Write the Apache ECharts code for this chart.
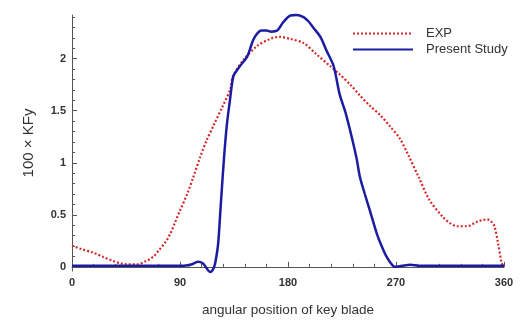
<!DOCTYPE html>
<html>
<head>
<meta charset="utf-8">
<script src="https://cdn.jsdelivr.net/npm/echarts@6/dist/echarts.min.js"></script>
<style>html,body{margin:0;padding:0;background:#fff;}#c{width:520px;height:322px;}</style>
</head>
<body>
<div id="c"></div>
<script>
// ---- data ----
const expAngles = [0, 8, 18, 26, 34, 40, 46, 54, 62, 68, 73, 78, 82, 86, 90, 96, 101, 107, 112, 118, 125, 132, 134, 143, 154, 165, 173, 182, 193, 204, 215, 223, 232, 240, 248, 257, 265, 273, 280, 289, 298, 309, 315, 321, 329, 337, 342, 346, 349, 352, 355, 358, 360];
const expValues = [0.205, 0.17, 0.135, 0.095, 0.057, 0.035, 0.025, 0.025, 0.057, 0.1, 0.167, 0.24, 0.32, 0.43, 0.54, 0.70, 0.86, 1.06, 1.21, 1.36, 1.53, 1.71, 1.83, 1.99, 2.12, 2.19, 2.21, 2.19, 2.15, 2.04, 1.93, 1.85, 1.75, 1.645, 1.55, 1.456, 1.35, 1.236, 1.08, 0.86, 0.64, 0.48, 0.42, 0.39, 0.39, 0.43, 0.45, 0.456, 0.44, 0.39, 0.23, 0.04, 0.0];
const studyAngles = [0, 30, 60, 90, 95, 100, 105, 109, 112, 115, 117, 119, 121, 122, 124, 126.7, 129, 131.7, 134.4, 137, 140, 146, 151, 155, 158, 162, 166, 171, 176, 182, 187, 193, 197, 201, 207, 212, 218, 223, 228, 232, 237, 240, 244, 248, 254, 258, 262, 266, 269, 275, 282, 290, 320, 360];
const studyValues = [0.01, 0.01, 0.01, 0.01, 0.012, 0.025, 0.05, 0.035, -0.01, -0.05, -0.035, 0.02, 0.15, 0.25, 0.6, 1.05, 1.36, 1.61, 1.83, 1.88, 1.93, 2.02, 2.18, 2.25, 2.27, 2.27, 2.26, 2.27, 2.35, 2.415, 2.42, 2.40, 2.36, 2.30, 2.21, 2.08, 1.93, 1.66, 1.48, 1.30, 1.05, 0.86, 0.70, 0.55, 0.32, 0.2, 0.10, 0.03, 0.0, 0.01, 0.02, 0.01, 0.01, 0.01];
const xTicks = [0, 90, 180, 270, 360];
const yTickLabels = [0, 0.5, 1, 1.5, 2];
const yMinorTicks = [0.1, 0.2, 0.3, 0.4, 0.6, 0.7, 0.8, 0.9, 1.1, 1.2, 1.3, 1.4, 1.6, 1.7, 1.8, 1.9, 2.1, 2.2, 2.3, 2.4];
const seriesNames = ['EXP', 'Present Study'];

const zip = (a, b) => a.map((v, i) => [v, b[i]]);
const axisColor = '#555';
const labelStyle = { color: '#333', fontSize: 11, fontWeight: 'bold', fontFamily: 'Liberation Sans, Arial, sans-serif' };

const chart = echarts.init(document.getElementById('c'), null, { renderer: 'canvas' });
chart.setOption({
  animation: false,
  backgroundColor: '#fff',
  grid: { left: 72, right: 16, top: 15, bottom: 47 },
  legend: {
    orient: 'vertical', left: 347, top: 22, itemWidth: 60, itemHeight: 14, itemGap: 3,
    data: seriesNames,
    itemStyle: { opacity: 0 },
    textStyle: { color: '#333', fontSize: 13, fontFamily: 'Liberation Sans, Arial, sans-serif', padding: [0, 0, 0, 8] }
  },
  xAxis: {
    type: 'value', min: 0, max: 360, interval: 90,
    name: 'angular position of key blade', nameLocation: 'middle', nameGap: 32,
    nameTextStyle: { color: '#333', fontSize: 13.5, fontFamily: 'Liberation Sans, Arial, sans-serif' },
    axisLine: { show: true, lineStyle: { color: axisColor, width: 1 } },
    axisTick: { show: true, inside: true, length: 5, lineStyle: { color: axisColor } },
    minorTick: { show: true, splitNumber: 5, length: 3, lineStyle: { color: axisColor } },
    axisLabel: Object.assign({ margin: 6, customValues: xTicks }, labelStyle),
    splitLine: { show: false }
  },
  yAxis: [{
    type: 'value', min: -0.04, max: 2.42, position: 'left',
    name: '100 × KFy', nameLocation: 'middle', nameGap: 36,
    nameTextStyle: { color: '#333', fontSize: 15, fontFamily: 'Liberation Sans, Arial, sans-serif' },
    axisLine: { show: true, onZero: false, lineStyle: { color: axisColor, width: 1 } },
    axisTick: { show: true, inside: true, length: 5, customValues: yTickLabels, lineStyle: { color: axisColor } },
    axisLabel: Object.assign({ margin: 6, customValues: yTickLabels }, labelStyle),
    splitLine: { show: false }
  }, {
    type: 'value', min: -0.04, max: 2.42, position: 'left',
    axisLine: { show: false },
    axisTick: { show: true, inside: true, length: 3, customValues: yMinorTicks, lineStyle: { color: axisColor } },
    axisLabel: { show: false },
    splitLine: { show: false }
  }],
  series: [{
    name: seriesNames[0], type: 'line', data: zip(expAngles, expValues),
    symbol: 'none', smooth: 0.3, clip: false,
    lineStyle: { color: '#d42a2a', width: 2.2, type: [2, 2] },
    itemStyle: { color: '#d42a2a' }
  }, {
    name: seriesNames[1], type: 'line', data: zip(studyAngles, studyValues),
    symbol: 'none', smooth: 0.3, clip: false,
    lineStyle: { color: '#1c1ca3', width: 2.5 },
    itemStyle: { color: '#1c1ca3' }
  }]
});
</script>
</body>
</html>
